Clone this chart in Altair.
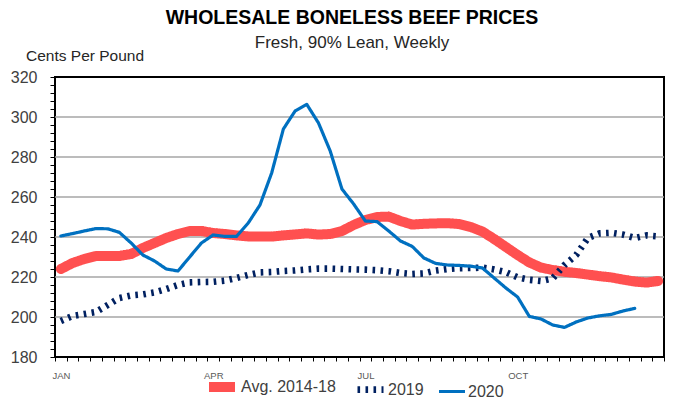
import altair as alt
import pandas as pd

# ---------------- data ----------------
series_names = ["Avg. 2014-18", "2019", "2020"]
series_colors = ["#ff5050", "#002060", "#0070c0"]

weeks = list(range(1, 53))

avg_2014_18 = [224, 227, 229, 230.5, 230.5, 230.5, 231.5, 234.5, 237, 239.5,
               241.5, 243, 243, 242, 241.5, 240.8, 240.3, 240.2, 240.2, 240.8,
               241.3, 241.8, 241.2, 241.5, 243, 246, 248.5, 250, 250.2, 248,
               246.2, 246.6, 246.8, 246.9, 246.5, 245, 242.7, 239, 235, 231,
               227.3, 224.7, 223.5, 222.6, 222, 221.2, 220.4, 219.8, 218.7, 217.7,
               217.2, 218]

y2019 = [198, 200.5, 201.5, 202.5, 206, 209.5, 210.8, 211.3, 212.3, 214,
         216, 217.3, 217.5, 217.6, 218.2, 219.5, 221, 222.3, 222.5, 223,
         223.3, 223.8, 224.2, 224.2, 224, 223.8, 223.7, 223.4, 222.9, 222,
         221.5, 221.8, 223.2, 224, 224.4, 224.5, 224.7, 223.8, 222.4, 219.8,
         218.6, 218, 219.3, 226, 231, 239.5, 241.8, 242.1, 241.2, 239.5,
         240.8, 240.3]

y2020 = [240.5, 241.7, 243, 244.2, 244.1, 242.3, 237, 231, 228, 224,
         223, 230, 237, 241, 240.3, 240.3, 247, 256, 272, 294,
         303, 306.3, 297, 283, 264, 256.5, 248, 247.7, 243, 238,
         235.3, 229.5, 226.8, 226, 225.8, 225.4, 224.5, 219.5, 214.5, 210,
         200.3, 199, 196, 194.8, 197.5, 199.5, 200.6, 201.3, 203, 204.3]

grid_values = [200, 220, 240, 260, 280, 300]
month_labels = {"JAN": 1, "APR": 14, "JUL": 27, "OCT": 40}

title_text = "WHOLESALE BONELESS BEEF PRICES"
subtitle_text = "Fresh, 90% Lean, Weekly"
unit_text = "Cents Per Pound"

# ---------------- tables ----------------
rows = []
for name, vals in zip(series_names, [avg_2014_18, y2019, y2020]):
    for w, v in zip(weeks, vals):
        rows.append({"series": name, "week": w, "value": v})
df = pd.DataFrame(rows)

FONT = "Liberation Sans, Arial, sans-serif"

W, H = 609, 280

xscale = alt.Scale(domain=[0.5, 52.5], nice=False, zero=False)
yscale = alt.Scale(domain=[180, 320], nice=False, zero=False)

label_expr_x = " : ".join(
    [f"datum.value == {w - 0.5} ? '{m}'" for m, w in month_labels.items()]
) + " : ''"

x_axis = alt.Axis(
    values=[i + 0.5 for i in range(53)],
    labelExpr=label_expr_x,
    labelOffset=6,
    labelAlign="center",
    labelOverlap=False,
    labelBound=False,
    labelFlush=False,
    labelFont=FONT,
    labelFontSize=9.5,
    labelColor="#595959",
    labelPadding=9,
    tickSize=4,
    tickColor="black",
    tickWidth=1,
    domain=False,
    grid=False,
    title=None,
)

y_axis = alt.Axis(
    values=list(range(180, 321, 4)),
    labelExpr="datum.value % 20 == 0 ? datum.label : ''",
    labelOverlap=False,
    labelBound=False,
    labelFlush=False,
    labelFont=FONT,
    labelFontSize=16,
    labelColor="#404040",
    labelPadding=13,
    tickSize=5,
    tickColor="black",
    tickWidth=1,
    domain=False,
    grid=False,
    title=None,
)

legend = alt.Legend(
    orient="none",
    legendX=149,
    legendY=292,
    direction="horizontal",
    title=None,
    symbolType="stroke",
    symbolSize=676,
    labelFont=FONT,
    labelFontSize=16,
    labelColor="#404040",
    labelOffset=1,
    columnPadding=8,
)

color_enc = alt.Color("series:N", scale=alt.Scale(domain=series_names, range=series_colors), legend=legend)
width_enc = alt.StrokeWidth("series:N", scale=alt.Scale(domain=series_names, range=[10, 3.2, 3.5]), legend=legend)
dash_enc = alt.StrokeDash("series:N", scale=alt.Scale(domain=series_names, range=[[1, 0], [2.6, 5.4], [1, 0]]), legend=legend)

grid = alt.Chart(pd.DataFrame({"g": grid_values})).mark_rule(
    color="#a6a6a6", strokeWidth=1.4
).encode(y=alt.Y("g:Q", scale=yscale, axis=y_axis))

caps = ["round", "butt", "round"]
line_layers = []
for i, name in enumerate(series_names):
    ch = alt.Chart(df).transform_filter(alt.datum.series == name).mark_line(
        strokeCap=caps[i], strokeJoin="round"
    ).encode(
        x=alt.X("week:Q", scale=xscale, axis=x_axis),
        y=alt.Y("value:Q", scale=yscale, axis=y_axis),
        color=color_enc,
        strokeWidth=width_enc,
        strokeDash=dash_enc,
    )
    line_layers.append(ch)

title = alt.Chart(pd.DataFrame({"t": [title_text]})).mark_text(
    font=FONT, fontSize=19.5, fontWeight="bold", color="black", align="center", baseline="alphabetic"
).encode(text="t:N", x=alt.value(297), y=alt.value(-53))

subtitle = alt.Chart(pd.DataFrame({"t": [subtitle_text]})).mark_text(
    font=FONT, fontSize=17, color="#262626", align="center", baseline="alphabetic"
).encode(text="t:N", x=alt.value(297), y=alt.value(-29))

unit = alt.Chart(pd.DataFrame({"t": [unit_text]})).mark_text(
    font=FONT, fontSize=15.5, color="#262626", align="left", baseline="alphabetic"
).encode(text="t:N", x=alt.value(-29), y=alt.value(-16))

chart = alt.layer(grid, *line_layers, title, subtitle, unit).properties(
    width=W,
    height=H,
    autosize="none",
    padding={"left": 47, "top": 69, "right": 1, "bottom": 40},
).configure_view(stroke="black", strokeWidth=2)

chart.save("out.html", embed_options={"renderer": "svg", "actions": False})
